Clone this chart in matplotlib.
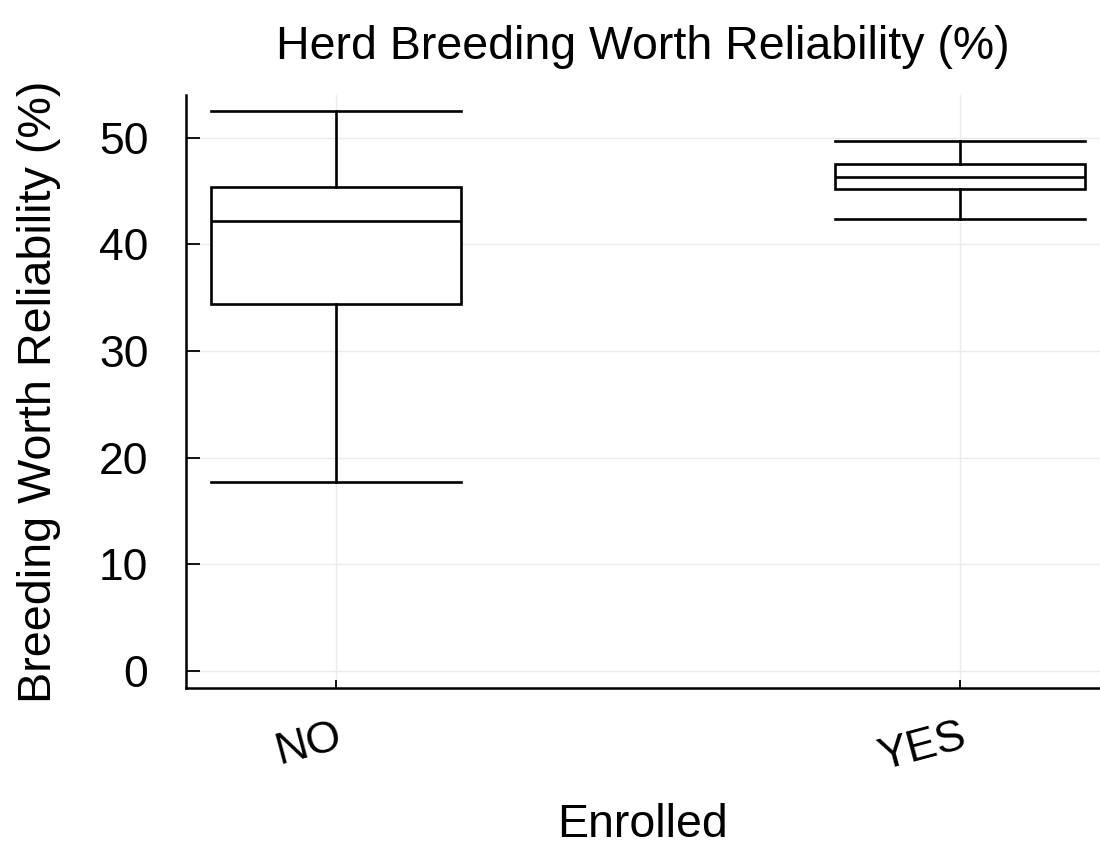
import matplotlib.pyplot as plt
from matplotlib.transforms import ScaledTranslation

plt.rcParams['font.family'] = ['Liberation Sans', 'DejaVu Sans']

# Box plot summary
categories = ["NO", "YES"]
whisker_low = [17.7, 42.4]
q1 = [34.4, 45.2]
median = [42.2, 46.3]
q3 = [45.4, 47.5]
whisker_high = [52.5, 49.7]
y_ticks = [0, 10, 20, 30, 40, 50]

stats = []
for i, cat in enumerate(categories):
    stats.append({"label": cat, "whislo": whisker_low[i], "q1": q1[i],
                  "med": median[i], "q3": q3[i], "whishi": whisker_high[i],
                  "fliers": []})

fig = plt.figure(figsize=(11, 8.47), dpi=100)
ax = fig.add_axes([0.169, 0.1877, 0.831, 0.7001])

lw = 1.9
ax.bxp(stats, positions=[0, 1], widths=0.4, capwidths=0.4, patch_artist=True,
       showfliers=False,
       boxprops=dict(facecolor="white", edgecolor="black", linewidth=lw),
       medianprops=dict(color="black", linewidth=lw),
       whiskerprops=dict(color="black", linewidth=lw),
       capprops=dict(color="black", linewidth=lw))

ax.set_xlim(-0.2404, 1.2244)
ax.set_ylim(-1.6, 54.0)
ax.set_yticks(y_ticks)
ax.set_xticks([0, 1])
ax.set_xticklabels(categories, rotation=15, ha="right", va="top",
                   rotation_mode="anchor")
for lab in ax.get_xticklabels():
    lab.set_transform(lab.get_transform() + ScaledTranslation(0.09, 0, fig.dpi_scale_trans))

ax.grid(True, color="#ebebeb", linewidth=1.0)
ax.set_axisbelow(True)
for side in ["top", "right"]:
    ax.spines[side].set_visible(False)
for side in ["left", "bottom"]:
    ax.spines[side].set_linewidth(1.8)

ax.tick_params(axis="y", direction="in", length=10, width=1.3, labelsize=32, pad=27)
ax.tick_params(axis="x", direction="in", length=6, width=1.3, labelsize=32, pad=20)

ax.set_title("Herd Breeding Worth Reliability (%)", fontsize=33.5, pad=26)
ax.set_xlabel("Enrolled", fontsize=33.5, labelpad=18)
ax.set_ylabel("Breeding Worth Reliability (%)", fontsize=33.7, labelpad=27)

fig.savefig("out.png", dpi=100)
